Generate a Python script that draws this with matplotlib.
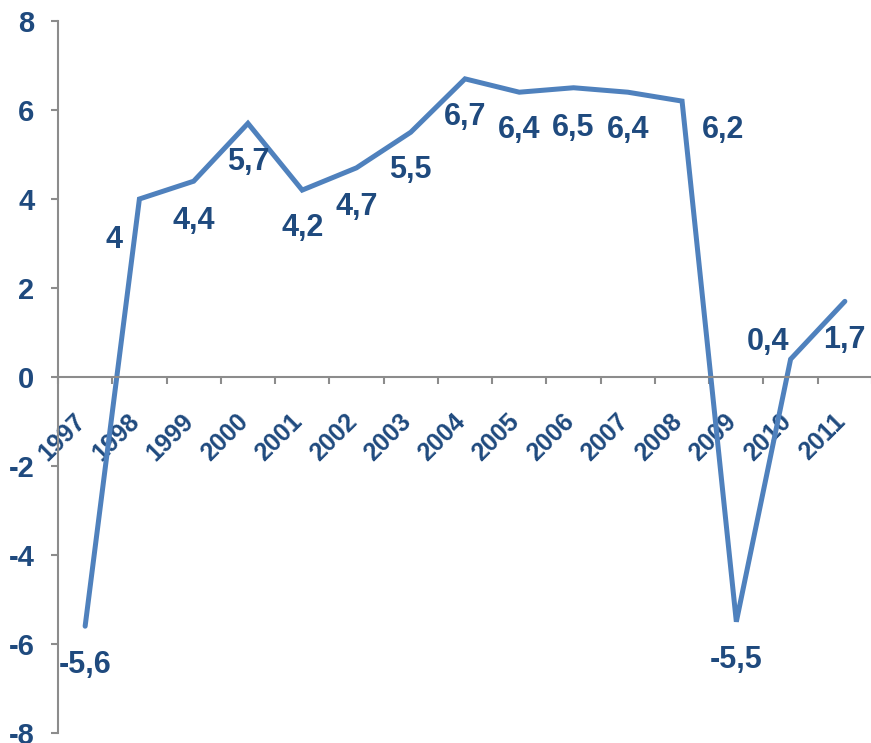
import matplotlib.pyplot as plt
import matplotlib.transforms as mtransforms

# data
years = ["1997", "1998", "1999", "2000", "2001", "2002", "2003", "2004",
         "2005", "2006", "2007", "2008", "2009", "2010", "2011"]
values = [-5.6, 4.0, 4.4, 5.7, 4.2, 4.7, 5.5, 6.7, 6.4, 6.5, 6.4, 6.2, -5.5, 0.4, 1.7]
value_labels = ["-5,6", "4", "4,4", "5,7", "4,2", "4,7", "5,5", "6,7",
                "6,4", "6,5", "6,4", "6,2", "-5,5", "0,4", "1,7"]
y_ticks = [-8, -6, -4, -2, 0, 2, 4, 6, 8]

# label offsets in pixels (dx, dy)
label_offsets = [(0, -39), (-25, -41), (0, -40), (0, -39), (0, -38), (0, -39),
                 (0, -38), (0, -38), (0, -38), (0, -40), (0, -38), (41, -29),
                 (0, -38), (-23, 17), (0, -39)]

plt.rcParams['font.family'] = ['Liberation Sans', 'DejaVu Sans']
text_color = "#1F4A7E"
axis_color = "#8C8C8C"
line_color = "#4F81BD"

fig = plt.figure(figsize=(8.71, 7.43), dpi=100)
ax = fig.add_axes([58 / 871, 10 / 743, 814 / 871, 712 / 743])

x = list(range(len(years)))
ax.plot(x, values, color=line_color, linewidth=3.6, solid_joinstyle='miter',
        solid_capstyle='round')

for xi, v, lab, off in zip(x, values, value_labels, label_offsets):
    ax.annotate(lab, (xi, v), xytext=off, textcoords='offset pixels',
                ha='center', va='center', fontsize=22, fontweight='bold',
                color=text_color)

ax.set_xlim(-0.5, len(years) - 0.5)
ax.set_ylim(-8, 8)
ax.set_yticks(y_ticks)
ax.set_yticklabels([str(t) for t in y_ticks])

# spines
for s in ["top", "right"]:
    ax.spines[s].set_visible(False)
ax.spines["bottom"].set_position(("data", 0))
ax.spines["left"].set_color(axis_color)
ax.spines["bottom"].set_color(axis_color)
ax.spines["left"].set_linewidth(1.5)
ax.spines["bottom"].set_linewidth(1.5)

# y ticks
ax.tick_params(axis='y', direction='out', length=5, width=1.5, color=axis_color,
               pad=12, labelsize=21, labelcolor=text_color)
for lab in ax.get_yticklabels():
    lab.set_fontweight('bold')

# x ticks: labels at centers, tick marks at boundaries
ax.set_xticks(x)
ax.set_xticklabels(years, rotation=45, ha='right', fontsize=18,
                   fontweight='bold', color=text_color)
ax.tick_params(axis='x', which='major', length=0, pad=23)
ax.set_xticks([i - 0.5 for i in range(len(years) + 1)], minor=True)
ax.tick_params(axis='x', which='minor', direction='out', length=5, width=1.5,
               color=axis_color)
shift = mtransforms.ScaledTranslation(5 / 100, 0, fig.dpi_scale_trans)
for lab in ax.get_xticklabels():
    lab.set_transform(lab.get_transform() + shift)

fig.savefig("out.png", dpi=100)
